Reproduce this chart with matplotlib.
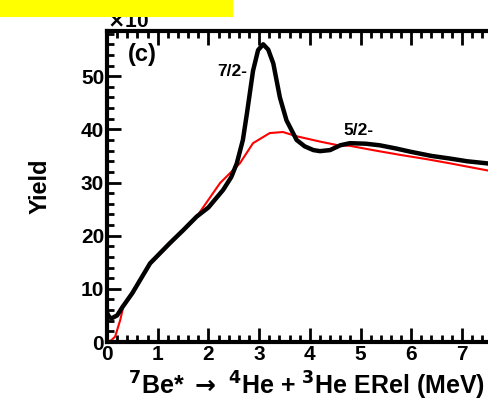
import matplotlib
matplotlib.use("Agg")
import matplotlib.pyplot as plt
from matplotlib.ticker import MultipleLocator
from matplotlib.patches import Rectangle

plt.rcParams['font.family'] = ['Liberation Sans', 'DejaVu Sans']
plt.rcParams['font.weight'] = 'bold'
plt.rcParams['mathtext.default'] = 'bf'

# black: data yield
black_x = [0, 0.05, 0.1, 0.2, 0.3, 0.5, 0.85, 1.24, 1.5, 1.77, 2.0, 2.29, 2.45,
           2.56, 2.68, 2.76, 2.88, 2.98, 3.08, 3.18, 3.28, 3.41, 3.54, 3.74, 3.9,
           4.07, 4.2, 4.4, 4.6, 4.79, 5.1, 5.38, 5.7, 5.98, 6.4, 6.77, 7.1, 7.5, 7.6]
black_y = [5.5, 4.6, 4.5, 5.0, 6.5, 9.2, 14.8, 18.6, 21.0, 23.6, 25.3, 28.6, 31.0,
           33.6, 38.0, 43.0, 51.0, 54.9, 56.0, 55.0, 52.4, 46.0, 41.7, 38.0, 36.8,
           36.1, 35.9, 36.1, 37.0, 37.4, 37.3, 37.0, 36.4, 35.8, 35.0, 34.5, 34.0, 33.6, 33.4]

# red: background / mixed events
red_x = [0, 0.08, 0.16, 0.26, 0.32, 0.45, 0.85, 1.24, 1.77, 2.23, 2.62, 2.88,
         3.21, 3.47, 3.74, 4.2, 4.56, 4.79, 5.3, 5.78, 6.3, 6.77, 7.1, 7.49, 7.6]
red_y = [0, 0.3, 1.0, 4.1, 6.6, 8.4, 14.6, 18.4, 23.6, 29.9, 33.6, 37.4,
         39.3, 39.5, 38.7, 37.7, 37.0, 36.9, 36.0, 35.2, 34.4, 33.6, 33.0, 32.3, 32.1]

fig = plt.figure(figsize=(4.88, 4.01), dpi=100)
ax = fig.add_axes([107 / 488, 59 / 401, 8 * 50.7 / 488, 311 / 401])

ax.plot(red_x, red_y, color='red', lw=1.5)
ax.plot(black_x, black_y, color='black', lw=3.2)

ax.set_xlim(0, 8)
ax.set_ylim(0, 58.5)
ax.xaxis.set_major_locator(MultipleLocator(1))
ax.xaxis.set_minor_locator(MultipleLocator(0.2))
ax.yaxis.set_major_locator(MultipleLocator(10))
ax.yaxis.set_minor_locator(MultipleLocator(2))
ax.tick_params(which='both', direction='in', top=True, right=False,
               width=2, labelsize=15)
ax.tick_params(which='major', length=10, pad=2)
ax.tick_params(which='minor', length=5)
for s in ax.spines.values():
    s.set_linewidth(3)

ax.set_ylabel('Yield', fontsize=17, fontweight='bold')
ax.yaxis.set_label_coords(-55 / 405.6, 0.5)
ax.set_xlabel(r'$^{7}$Be* $\rightarrow$ $^{4}$He + $^{3}$He ERel (MeV)',
              fontsize=18, fontweight='bold')
ax.xaxis.set_label_coords((307 - 107) / (8 * 50.7), -28 / 311)

ax.text(0.052, 0.923, '(c)', transform=ax.transAxes, fontsize=17,
        fontweight='bold', va='center')
ax.text(2.47, 50.8, '7/2-', fontsize=12.5, fontweight='bold', ha='center', va='center')
ax.text(4.97, 39.7, '5/2-', fontsize=12.5, fontweight='bold', ha='center', va='center')

fig.text(107 / 488, 374 / 401, r'$\times$10', fontsize=15, color='black')
fig.add_artist(Rectangle((0, 384 / 401), 233 / 488, 17 / 401,
                         transform=fig.transFigure, facecolor='yellow',
                         edgecolor='none', zorder=10))

fig.savefig('out.png', dpi=100)
